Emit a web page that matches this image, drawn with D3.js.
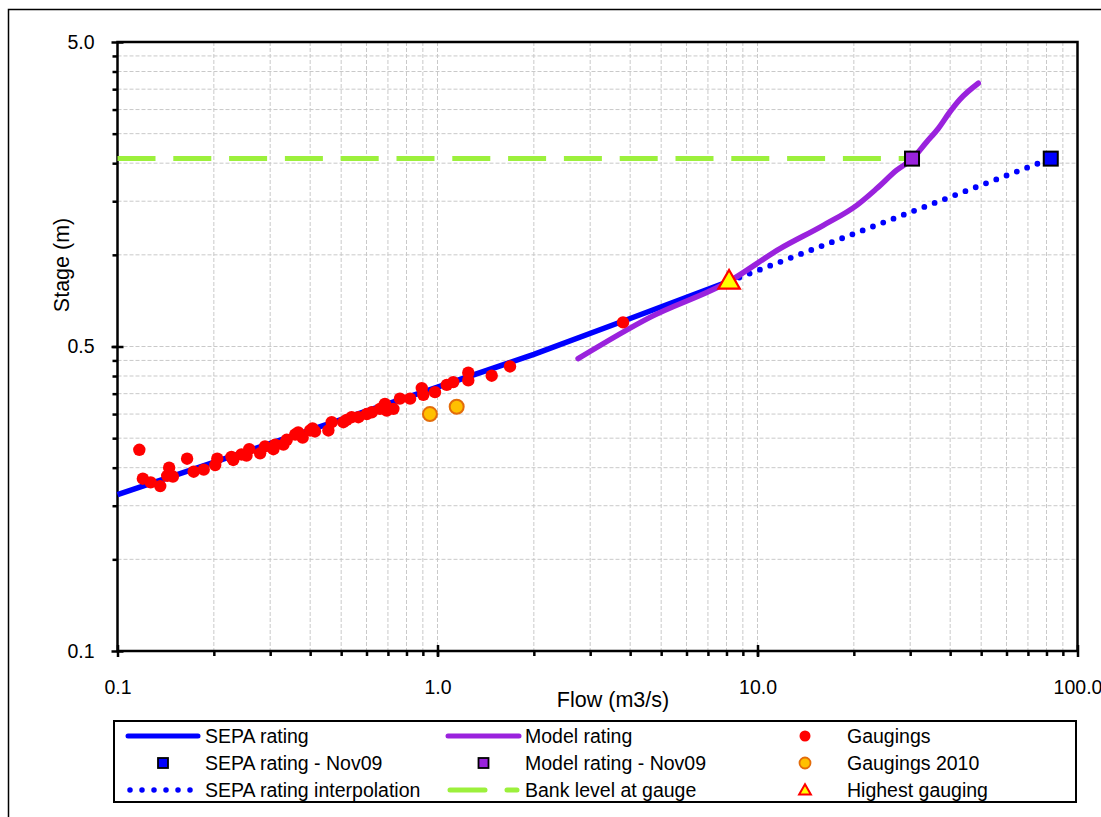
<!DOCTYPE html>
<html>
<head>
<meta charset="utf-8">
<script src="https://cdn.jsdelivr.net/npm/d3@7"></script>
<style>
  body { margin: 0; background: #fff; }
  text { font-family: "Liberation Sans", Arial, sans-serif; fill: #000; }
</style>
</head>
<body>
<svg id="chart" width="1101" height="817"></svg>
<script>
// ---- Data: flow (m3/s) against stage (m) ----
const gaugingFlow = [0.117,0.120,0.127,0.136,0.145,0.143,0.149,0.165,0.173,0.186,0.202,0.205,0.227,0.230,0.244,0.253,0.258,0.279,0.289,0.311,0.307,0.330,0.338,0.359,0.367,0.379,0.400,0.407,0.414,0.456,0.467,0.508,0.520,0.539,0.566,0.601,0.623,0.661,0.685,0.694,0.728,0.763,0.821,0.893,0.903,0.982,1.069,1.120,1.248,1.248,1.477,1.685,3.80];
const gaugingStage = [0.229,0.184,0.179,0.174,0.200,0.188,0.187,0.214,0.194,0.197,0.204,0.214,0.217,0.212,0.221,0.219,0.230,0.223,0.235,0.238,0.230,0.238,0.247,0.257,0.261,0.251,0.265,0.269,0.263,0.265,0.282,0.282,0.287,0.293,0.293,0.300,0.304,0.312,0.324,0.308,0.312,0.337,0.337,0.365,0.347,0.354,0.374,0.382,0.410,0.387,0.401,0.430,0.600];

const gauging2010Flow = [0.947, 1.148];
const gauging2010Stage = [0.300, 0.317];

const sepaRatingFlow = [0.1, 1.0, 2.0, 4.0, 8.15];
const sepaRatingStage = [0.163, 0.368, 0.471, 0.618, 0.818];

const sepaInterpFlow = [8.15, 82.5];
const sepaInterpStage = [0.818, 2.07];

const modelRatingFlow = [2.75, 4.61, 8.15, 11.76, 16.06, 20.42, 23.58, 27.23, 30.34, 33.8, 36.73, 39.95, 42.93, 48.98];
const modelRatingStage = [0.456, 0.623, 0.818, 1.048, 1.25, 1.454, 1.651, 1.897, 2.06, 2.35, 2.60, 2.95, 3.24, 3.66];

const sepaNov09Flow = [82.5];
const sepaNov09Stage = [2.07];
const modelNov09Flow = [30.4];
const modelNov09Stage = [2.07];

const bankLevelFlow = [0.1, 30.4];
const bankLevelStage = [2.07, 2.07];

const highestGaugingFlow = [8.15];
const highestGaugingStage = [0.818];

// Axis ticks
const xMajorTicks = [0.1, 1, 10, 100];
const xTickLabels = ["0.1", "1.0", "10.0", "100.0"];
const yMajorTicks = [0.05, 0.5, 5];
const yTickLabels = ["0.1", "0.5", "5.0"];

const legendLabels = [
  "SEPA rating", "Model rating", "Gaugings",
  "SEPA rating - Nov09", "Model rating - Nov09", "Gaugings 2010",
  "SEPA rating interpolation", "Bank level at gauge", "Highest gauging"
];

// ---- Styles ----
const C = {
  blue: "#0000ff",
  purple: "#9a22dd",
  green: "#9cf03c",
  red: "#ff0000",
  orangeFill: "#ffc000",
  orangeEdge: "#e36c0a",
  yellow: "#ffff00",
  grid: "#c9c9c9"
};
const FONT = '"Liberation Sans", Arial, sans-serif';

const svg = d3.select("#chart");
const plot = { left: 117.5, right: 1077.5, top: 42, bottom: 651 };

const x = d3.scaleLog().domain([0.1, 100]).range([plot.left, plot.right]);
const y = d3.scaleLog().domain([0.05, 5]).range([plot.bottom, plot.top]);

const zip = (a, b) => a.map((v, i) => [v, b[i]]);

// Outer chart frame
svg.append("rect")
  .attr("x", 8.5).attr("y", 9.5).attr("width", 1110).attr("height", 830)
  .attr("fill", "none").attr("stroke", "#000").attr("stroke-width", 1.5);

// Minor + major tick positions for a log decade grid
function logGrid(lo, hi, base) {
  const out = [];
  for (let d = base; d < hi * 0.999; d *= 10) {
    for (let k = 1; k <= 9; k++) {
      const v = d * k;
      if (v > lo * 1.0001 && v < hi * 0.999) out.push(v);
    }
  }
  return out;
}
const xGrid = logGrid(0.1, 100, 0.1);
const yGrid = logGrid(0.05, 5, 0.05);

const grid = svg.append("g");
grid.selectAll("line.gx").data(xGrid).join("line")
  .attr("x1", d => x(d)).attr("x2", d => x(d))
  .attr("y1", plot.top).attr("y2", plot.bottom)
  .attr("stroke", C.grid).attr("stroke-width", 1).attr("stroke-dasharray", "4,2");
grid.selectAll("line.gy").data(yGrid).join("line")
  .attr("y1", d => y(d)).attr("y2", d => y(d))
  .attr("x1", plot.left).attr("x2", plot.right)
  .attr("stroke", C.grid).attr("stroke-width", 1).attr("stroke-dasharray", "4,2");

// Plot frame
svg.append("rect")
  .attr("x", plot.left).attr("y", plot.top)
  .attr("width", plot.right - plot.left).attr("height", plot.bottom - plot.top)
  .attr("fill", "none").attr("stroke", "#000").attr("stroke-width", 2.5);

// Axes: minor ticks outside, major ticks crossing the axis line
const xMinorAxis = d3.axisBottom(x).tickValues(xGrid).tickSize(5).tickFormat("");
svg.append("g").attr("transform", `translate(0,${plot.bottom})`).call(xMinorAxis)
  .call(g => g.select(".domain").remove())
  .call(g => g.selectAll("line").attr("stroke-width", 2.5));

const xMajorAxis = d3.axisBottom(x).tickValues(xMajorTicks).tickSize(6).tickPadding(23)
  .tickFormat((d, i) => xTickLabels[i]);
svg.append("g").attr("transform", `translate(0,${plot.bottom})`).call(xMajorAxis)
  .call(g => g.select(".domain").remove())
  .call(g => g.selectAll("line").attr("y1", -6).attr("stroke-width", 2.5))
  .call(g => g.selectAll("text").attr("font-size", 19.5).style("font-family", FONT));

const yMinorAxis = d3.axisLeft(y).tickValues(yGrid).tickSize(5).tickFormat("");
svg.append("g").attr("transform", `translate(${plot.left},0)`).call(yMinorAxis)
  .call(g => g.select(".domain").remove())
  .call(g => g.selectAll("line").attr("stroke-width", 2.5));

const yMajorAxis = d3.axisLeft(y).tickValues(yMajorTicks).tickSize(6).tickPadding(17)
  .tickFormat((d, i) => yTickLabels[i]);
svg.append("g").attr("transform", `translate(${plot.left},0)`).call(yMajorAxis)
  .call(g => g.select(".domain").remove())
  .call(g => g.selectAll("line").attr("x1", 6).attr("stroke-width", 2.5))
  .call(g => g.selectAll("text").attr("font-size", 19.5).style("font-family", FONT));

// Axis titles
svg.append("text").attr("x", 613).attr("y", 707).attr("text-anchor", "middle")
  .attr("font-size", 21.5).text("Flow (m3/s)");
svg.append("text").attr("transform", "translate(69,265) rotate(-90)").attr("text-anchor", "middle")
  .attr("font-size", 21.5).text("Stage (m)");

// ---- Series ----
const line = d3.line().x(d => x(d[0])).y(d => y(d[1]));
const series = svg.append("g");

series.append("path").datum(zip(bankLevelFlow, bankLevelStage))
  .attr("d", line).attr("fill", "none").attr("stroke", C.green)
  .attr("stroke-width", 5).attr("stroke-dasharray", "38,17.8");

series.append("path").datum(zip(sepaInterpFlow, sepaInterpStage))
  .attr("d", line).attr("fill", "none").attr("stroke", C.blue)
  .attr("stroke-width", 5.8).attr("stroke-linecap", "round").attr("stroke-dasharray", "0,11");

series.append("path").datum(zip(sepaRatingFlow, sepaRatingStage))
  .attr("d", line).attr("fill", "none").attr("stroke", C.blue).attr("stroke-width", 5.5);

series.append("path").datum(zip(modelRatingFlow, modelRatingStage))
  .attr("d", d3.line().x(d => x(d[0])).y(d => y(d[1])).curve(d3.curveMonotoneX))
  .attr("fill", "none").attr("stroke", C.purple).attr("stroke-width", 5.5).attr("stroke-linecap", "round");

series.selectAll("circle.g").data(zip(gaugingFlow, gaugingStage)).join("circle")
  .attr("cx", d => x(d[0])).attr("cy", d => y(d[1])).attr("r", 6.2).attr("fill", C.red);

series.selectAll("circle.g10").data(zip(gauging2010Flow, gauging2010Stage)).join("circle")
  .attr("cx", d => x(d[0])).attr("cy", d => y(d[1])).attr("r", 7)
  .attr("fill", C.orangeFill).attr("stroke", C.orangeEdge).attr("stroke-width", 2);

function squares(flow, stage, fill) {
  series.selectAll(null).data(zip(flow, stage)).join("rect")
    .attr("x", d => x(d[0]) - 7).attr("y", d => y(d[1]) - 7)
    .attr("width", 14).attr("height", 14)
    .attr("fill", fill).attr("stroke", "#000").attr("stroke-width", 2);
}
squares(modelNov09Flow, modelNov09Stage, C.purple);
squares(sepaNov09Flow, sepaNov09Stage, C.blue);

const tri = d3.symbol().type(d3.symbolTriangle).size(200);
series.selectAll("path.tri").data(zip(highestGaugingFlow, highestGaugingStage)).join("path")
  .attr("d", tri).attr("transform", d => `translate(${x(d[0])},${y(d[1]) + 1})`)
  .attr("fill", C.yellow).attr("stroke", C.red).attr("stroke-width", 2.2);

// ---- Legend ----
const leg = svg.append("g");
leg.append("rect").attr("x", 114).attr("y", 721).attr("width", 962).attr("height", 81)
  .attr("fill", "#fff").attr("stroke", "#000").attr("stroke-width", 2);

const rowY = [736, 763, 790];
const symX = [[128, 198], [448, 519], [805, 805]];
const textX = [205, 525, 847];

legendLabels.forEach((lab, i) => {
  const r = Math.floor(i / 3), c = i % 3;
  const yy = rowY[r];
  const g = leg.append("g");
  const [a, b] = symX[c];
  const mid = (a + b) / 2;
  if (i === 0 || i === 1) {
    g.append("line").attr("x1", a).attr("x2", b).attr("y1", yy).attr("y2", yy)
      .attr("stroke", i === 0 ? C.blue : C.purple).attr("stroke-width", 5).attr("stroke-linecap", "round");
  } else if (i === 6) {
    g.append("line").attr("x1", a + 2).attr("x2", b).attr("y1", yy).attr("y2", yy)
      .attr("stroke", C.blue).attr("stroke-width", 5.5).attr("stroke-linecap", "round").attr("stroke-dasharray", "0,12");
  } else if (i === 7) {
    g.append("line").attr("x1", a + 2).attr("x2", b - 2).attr("y1", yy).attr("y2", yy)
      .attr("stroke", C.green).attr("stroke-width", 5).attr("stroke-linecap", "round").attr("stroke-dasharray", "35,22");
  } else if (i === 3 || i === 4) {
    g.append("rect").attr("x", mid - 5).attr("y", yy - 5).attr("width", 10).attr("height", 10)
      .attr("fill", i === 3 ? C.blue : C.purple).attr("stroke", "#000").attr("stroke-width", 1.8);
  } else if (i === 2) {
    g.append("circle").attr("cx", mid).attr("cy", yy).attr("r", 5.5).attr("fill", C.red);
  } else if (i === 5) {
    g.append("circle").attr("cx", mid).attr("cy", yy).attr("r", 5.5)
      .attr("fill", C.orangeFill).attr("stroke", C.orangeEdge).attr("stroke-width", 1.8);
  } else if (i === 8) {
    g.append("path").attr("d", d3.symbol().type(d3.symbolTriangle).size(60))
      .attr("transform", `translate(${mid},${yy + 1})`)
      .attr("fill", C.yellow).attr("stroke", C.red).attr("stroke-width", 2);
  }
  g.append("text").attr("x", textX[c]).attr("y", yy).attr("dy", "0.36em")
    .attr("font-size", 19.5).text(lab);
});
</script>
</body>
</html>
